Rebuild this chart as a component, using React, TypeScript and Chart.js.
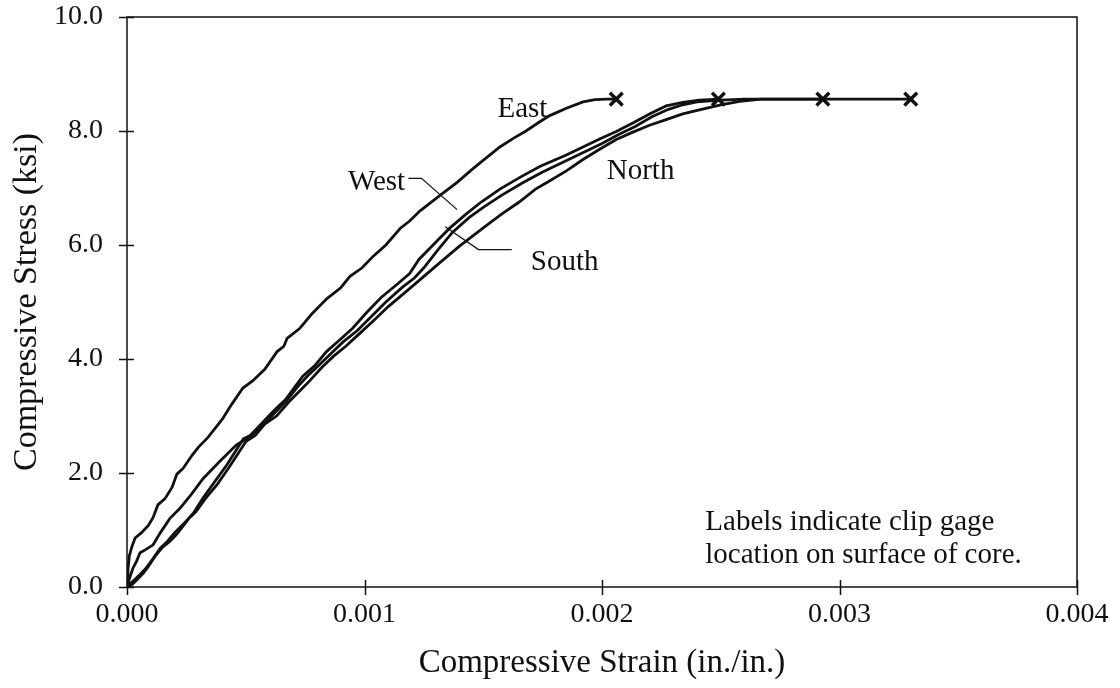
import React, { useEffect, useRef } from "react";
import { Chart, registerables } from "chart.js";

Chart.register(...registerables);

// Stress–strain records for the four clip gages (strain in in./in., stress in ksi)
const eastStrain = [0, 0.000004, 0.00001, 0.00002, 0.000034, 0.00006, 0.00009, 0.00011, 0.00013, 0.00016, 0.00019, 0.00021, 0.000236, 0.000274, 0.0003, 0.00034, 0.00038, 0.000404, 0.00044, 0.000488, 0.00053, 0.00058, 0.000632, 0.00066, 0.000674, 0.000728, 0.00078, 0.000842, 0.0009, 0.000939, 0.00099, 0.001036, 0.00109, 0.00115, 0.00119, 0.001234, 0.001318, 0.00139, 0.001457, 0.00151, 0.00157, 0.00163, 0.00168, 0.00173, 0.00178, 0.00185, 0.00192, 0.00197, 0.00202, 0.00206];
const eastStress = [0, 0.3, 0.55, 0.7, 0.86, 0.95, 1.08, 1.22, 1.44, 1.55, 1.75, 1.98, 2.08, 2.31, 2.45, 2.62, 2.83, 2.96, 3.2, 3.49, 3.62, 3.82, 4.13, 4.22, 4.36, 4.54, 4.8, 5.06, 5.25, 5.45, 5.6, 5.8, 6.0, 6.29, 6.42, 6.6, 6.87, 7.1, 7.34, 7.52, 7.72, 7.88, 8.0, 8.14, 8.27, 8.4, 8.51, 8.55, 8.56, 8.56];

const westStrain = [0, 0.00001, 0.000025, 0.00004, 0.000055, 0.00008, 0.00011, 0.00014, 0.00018, 0.000223, 0.00027, 0.00032, 0.00039, 0.00046, 0.00051, 0.00056, 0.00062, 0.00067, 0.00074, 0.00079, 0.00084, 0.0009, 0.00095, 0.00101, 0.00107, 0.00114, 0.00119, 0.00123, 0.0013, 0.00136, 0.00143, 0.00149, 0.00157, 0.00166, 0.00174, 0.00185, 0.00192, 0.00199, 0.00206, 0.00213, 0.0022, 0.00227, 0.00234, 0.00241, 0.00249];
const westStress = [0, 0.15, 0.33, 0.45, 0.6, 0.66, 0.74, 0.95, 1.2, 1.38, 1.62, 1.9, 2.2, 2.49, 2.62, 2.84, 3.1, 3.3, 3.7, 3.88, 4.13, 4.35, 4.54, 4.82, 5.08, 5.32, 5.5, 5.75, 6.05, 6.3, 6.55, 6.75, 6.98, 7.2, 7.38, 7.58, 7.72, 7.86, 7.99, 8.14, 8.3, 8.44, 8.5, 8.54, 8.56];

const southStrain = [0, 0.00001, 0.00003, 0.00005, 0.00008, 0.00011, 0.00014, 0.00017, 0.0002, 0.00025, 0.00028, 0.00032, 0.00037, 0.00042, 0.00049, 0.00053, 0.00057, 0.00062, 0.00067, 0.00072, 0.00076, 0.00081, 0.00086, 0.00091, 0.00097, 0.00103, 0.00109, 0.00116, 0.00121, 0.00125, 0.00131, 0.00137, 0.00144, 0.0015, 0.00158, 0.00167, 0.00175, 0.00184, 0.00193, 0.002, 0.00207, 0.00214, 0.00221, 0.00228, 0.00234, 0.0024, 0.0025, 0.0026, 0.00275, 0.00293];
const southStress = [0, 0.05, 0.12, 0.2, 0.33, 0.5, 0.68, 0.8, 0.95, 1.16, 1.3, 1.56, 1.85, 2.14, 2.6, 2.68, 2.84, 3.05, 3.26, 3.52, 3.7, 3.9, 4.1, 4.3, 4.5, 4.75, 5.0, 5.26, 5.42, 5.6, 5.92, 6.22, 6.48, 6.66, 6.88, 7.1, 7.28, 7.46, 7.64, 7.78, 7.94, 8.08, 8.25, 8.38, 8.46, 8.51, 8.54, 8.56, 8.56, 8.56];

const northStrain = [0, 0.00002, 0.00004, 0.00007, 0.00009, 0.00012, 0.00015, 0.00018, 0.00021, 0.00026, 0.00029, 0.00033, 0.00038, 0.00043, 0.0005, 0.00054, 0.00058, 0.00063, 0.00068, 0.00073, 0.00077, 0.00082, 0.00087, 0.00092, 0.00098, 0.00104, 0.0011, 0.00118, 0.00125, 0.00132, 0.0014, 0.0015, 0.00158, 0.00165, 0.00172, 0.00177, 0.00185, 0.00192, 0.00199, 0.00206, 0.00213, 0.0022, 0.00227, 0.00234, 0.00241, 0.0025, 0.00258, 0.00267, 0.0028, 0.003, 0.0033];
const northStress = [0, 0.04, 0.12, 0.25, 0.36, 0.55, 0.7, 0.8, 0.93, 1.2, 1.32, 1.55, 1.8, 2.1, 2.55, 2.66, 2.86, 3.0, 3.24, 3.45, 3.62, 3.85, 4.05, 4.22, 4.45, 4.68, 4.92, 5.2, 5.45, 5.7, 5.98, 6.3, 6.55, 6.75, 6.98, 7.1, 7.3, 7.5, 7.68, 7.85, 7.98, 8.1, 8.2, 8.3, 8.37, 8.46, 8.52, 8.56, 8.56, 8.56, 8.56];

// Axis ticks
const xTicks = [0, 0.001, 0.002, 0.003, 0.004];
const yTicks = [0, 2, 4, 6, 8, 10];

const INK = "#111";
const SERIF = "'Liberation Serif', 'Times New Roman', serif";

type Pt = { x: number; y: number };
const zip = (xs: number[], ys: number[]): Pt[] => xs.map((x, i) => ({ x, y: ys[i] }));

// Gage names and leader lines, placed in data coordinates
const gageLabels = [
  { text: "East", x: 0.00156, y: 8.38 },
  { text: "West", x: 0.00093, y: 7.1 },
  { text: "North", x: 0.00202, y: 7.3 },
  { text: "South", x: 0.0017, y: 5.7 },
];
const leaders: Pt[][] = [
  [{ x: 0.001185, y: 7.17 }, { x: 0.00124, y: 7.17 }, { x: 0.00139, y: 6.62 }],
  [{ x: 0.00134, y: 6.32 }, { x: 0.00148, y: 5.92 }, { x: 0.00162, y: 5.92 }],
];
const noteLines = ["Labels indicate clip gage", "location on surface of core."];
const notePos = { x: 0.002435, y: 1.14, step: 0.58 };

const decorPlugin = {
  id: "decor",
  afterDraw(chart: any) {
    const { ctx, chartArea: a, scales } = chart;
    const xs = scales.x;
    const ys = scales.y;
    ctx.save();
    ctx.strokeStyle = INK;
    ctx.lineWidth = 1.5;
    ctx.strokeRect(a.left, a.top, a.right - a.left, a.bottom - a.top);
    ctx.beginPath();
    for (const v of xTicks) {
      const px = Math.round(xs.getPixelForValue(v)) + 0.5;
      ctx.moveTo(px, a.bottom - 7);
      ctx.lineTo(px, a.bottom + 8);
    }
    for (const v of yTicks) {
      const py = Math.round(ys.getPixelForValue(v)) + 0.5;
      ctx.moveTo(a.left - 8, py);
      ctx.lineTo(a.left + 7, py);
    }
    ctx.stroke();

    // leader lines
    ctx.lineWidth = 1.2;
    for (const seg of leaders) {
      ctx.beginPath();
      seg.forEach((p, i) => {
        const px = xs.getPixelForValue(p.x);
        const py = ys.getPixelForValue(p.y);
        if (i === 0) ctx.moveTo(px, py);
        else ctx.lineTo(px, py);
      });
      ctx.stroke();
    }

    ctx.fillStyle = INK;
    ctx.textBaseline = "middle";
    ctx.textAlign = "left";
    ctx.font = `29px ${SERIF}`;
    for (const l of gageLabels) {
      ctx.fillText(l.text, xs.getPixelForValue(l.x), ys.getPixelForValue(l.y));
    }
    noteLines.forEach((t, i) => {
      ctx.fillText(t, xs.getPixelForValue(notePos.x), ys.getPixelForValue(notePos.y - i * notePos.step));
    });
    ctx.restore();
  },
};

export default function App() {
  const ref = useRef<HTMLCanvasElement | null>(null);

  useEffect(() => {
    if (!ref.current) return;
    Chart.defaults.font.family = SERIF;
    Chart.defaults.color = INK;

    const curves = [
      zip(eastStrain, eastStress),
      zip(westStrain, westStress),
      zip(southStrain, southStress),
      zip(northStrain, northStress),
    ];
    const names = ["East", "West", "South", "North"];
    // failure point = last reading of each gage
    const failures = curves.map((c) => c[c.length - 1]);

    const lineSets = curves.map((c, i) => ({
      label: names[i],
      data: c,
      showLine: true,
      borderColor: INK,
      borderWidth: 2.8,
      pointRadius: 0,
      tension: 0,
      fill: false,
    }));

    const chart = new Chart(ref.current, {
      type: "scatter",
      data: {
        datasets: [
          ...lineSets,
          {
            label: "Failure",
            data: failures,
            showLine: false,
            pointStyle: "crossRot",
            pointRadius: 9,
            pointBorderWidth: 3.4,
            borderColor: INK,
            backgroundColor: INK,
          },
        ] as any,
      },
      options: {
        animation: false,
        responsive: false,
        devicePixelRatio: 1,
        layout: { padding: { top: 17, right: 43, left: 0, bottom: 0 } },
        plugins: { legend: { display: false }, tooltip: { enabled: false } },
        scales: {
          x: {
            type: "linear",
            min: 0,
            max: 0.004,
            afterBuildTicks: (s: any) => {
              s.ticks = xTicks.map((v) => ({ value: v }));
            },
            afterFit: (s: any) => {
              s.height = 101;
              s.paddingLeft = 0;
              s.paddingRight = 0;
            },
            grid: { display: false, drawTicks: false },
            border: { display: false },
            ticks: {
              padding: 11,
              maxRotation: 0,
              autoSkip: false,
              font: { size: 28 },
              callback: (v: any) => Number(v).toFixed(3),
            },
            title: {
              display: true,
              text: "Compressive Strain (in./in.)",
              font: { size: 33 },
              padding: { top: 0, bottom: 5 },
            },
          },
          y: {
            type: "linear",
            min: 0,
            max: 10,
            afterBuildTicks: (s: any) => {
              s.ticks = yTicks.map((v) => ({ value: v }));
            },
            afterFit: (s: any) => {
              s.width = 127;
              s.paddingTop = 0;
              s.paddingBottom = 0;
            },
            grid: { display: false, drawTicks: false },
            border: { display: false },
            ticks: {
              padding: 24,
              autoSkip: false,
              font: { size: 28 },
              callback: (v: any) => Number(v).toFixed(1),
            },
            title: {
              display: true,
              text: "Compressive Stress (ksi)",
              font: { size: 34 },
              padding: { top: 7, bottom: 0 },
            },
          },
        },
      },
      plugins: [decorPlugin],
    } as any);

    return () => chart.destroy();
  }, []);

  return (
    <div style={{ position: "absolute", left: 0, top: 0, width: 1120, height: 688, background: "#fff" }}>
      <canvas ref={ref} width={1120} height={688} style={{ display: "block" }} />
    </div>
  );
}
